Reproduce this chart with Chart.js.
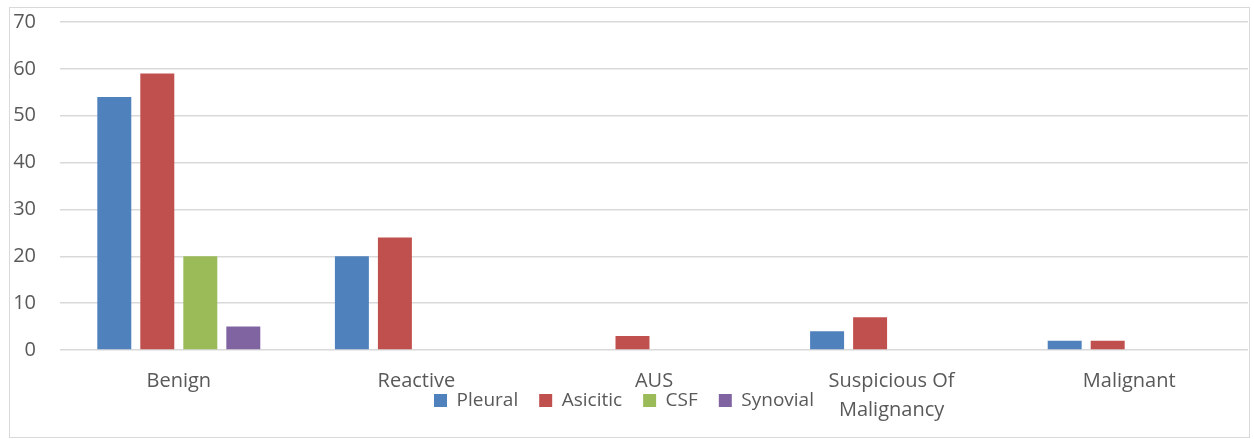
<!DOCTYPE html>
<html>
<head>
<meta charset="utf-8">
<script src="https://cdn.jsdelivr.net/npm/chart.js@4/dist/chart.umd.min.js"></script>
<style>
  html, body { margin: 0; padding: 0; background: #ffffff; }
  #wrap { position: relative; width: 1254px; height: 439px; }
  #frame { position: absolute; left: 9px; top: 7px; width: 1239px; height: 429px;
           border: 1.5px solid #d9d9d9; pointer-events: none; }
  canvas { position: absolute; left: 0; top: 0; }
</style>
</head>
<body>
<div id="wrap">
  <canvas id="chart" width="1254" height="439"></canvas>
  <div id="frame"></div>
</div>
<script>
// Cytology categories by fluid type
const categories = ['Benign', 'Reactive', 'AUS', ['Suspicious Of', 'Malignancy'], 'Malignant'];
const pleural   = [54, 20, 0, 4, 2];
const asicitic  = [59, 24, 3, 7, 2];
const csf       = [20, 0, 0, 0, 0];
const synovial  = [5, 0, 0, 0, 0];
const yTicks    = [0, 10, 20, 30, 40, 50, 60, 70];

const FONT = '"Open Sans", "Noto Sans", sans-serif';
const TEXT = '#595959';
const GRID = '#d9d9d9';

const series = [
  { label: 'Pleural',  data: pleural,  color: '#4f81bd' },
  { label: 'Asicitic', data: asicitic, color: '#c0504d' },
  { label: 'CSF',      data: csf,      color: '#9bbb59' },
  { label: 'Synovial', data: synovial, color: '#8064a2' }
];

// The category labels share their band with the legend row, so the x axis
// reserves little room and its label clip box is stretched to the canvas bottom.
const overlapLayout = {
  id: 'overlapLayout',
  afterLayout(chart) {
    chart.scales.x.bottom = chart.height;
    const lg = chart.legend;
    lg.left -= 6;
    lg.right -= 6;
  }
};

new Chart(document.getElementById('chart'), {
  type: 'bar',
  data: {
    labels: categories,
    datasets: series.map(s => ({
      label: s.label,
      data: s.data,
      backgroundColor: s.color,
      borderWidth: 0,
      categoryPercentage: 0.724,
      barPercentage: 0.79
    }))
  },
  plugins: [overlapLayout],
  options: {
    responsive: false,
    animation: false,
    devicePixelRatio: 1,
    layout: { padding: { left: 12, right: 6, top: 22, bottom: 19 } },
    plugins: {
      tooltip: { enabled: false },
      legend: {
        position: 'bottom',
        labels: {
          color: TEXT,
          font: { family: FONT, size: 19 },
          boxWidth: 13,
          boxHeight: 13,
          padding: 21
        }
      }
    },
    scales: {
      x: {
        grid: { display: false, drawTicks: false },
        border: { display: false },
        ticks: {
          color: TEXT,
          font: { family: FONT, size: 20, lineHeight: 1.45 },
          padding: 17,
          maxRotation: 0,
          autoSkip: false
        },
        afterFit: s => { s.height = 20; }
      },
      y: {
        min: 0,
        max: 70,
        afterBuildTicks: s => { s.ticks = yTicks.map(v => ({ value: v })); },
        grid: { color: GRID, lineWidth: 1.5, drawTicks: false },
        border: { display: false },
        ticks: {
          color: TEXT,
          font: { family: FONT, size: 20 },
          padding: 24
        },
        afterFit: s => { s.width = 48; s.paddingTop = 0; s.paddingBottom = 0; }
      }
    }
  }
});
</script>
</body>
</html>
